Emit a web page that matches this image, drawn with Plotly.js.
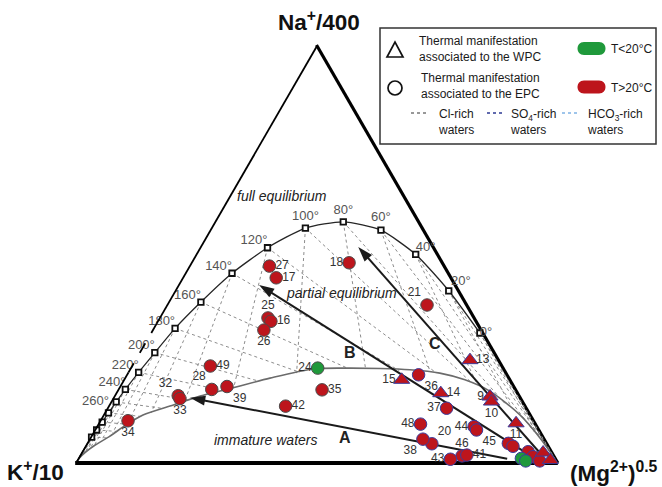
<!DOCTYPE html>
<html>
<head>
<meta charset="utf-8">
<script src="https://cdn.plot.ly/plotly-3.0.1.min.js"></script>
<style>
  html, body { margin: 0; padding: 0; background: #fff; }
  #chart { width: 662px; height: 487px; }
</style>
</head>
<body>
<div id="chart"></div>
<script>
// Giggenbach Na–K–Mg ternary diagram (a = Na/400, b = K/10, c = Mg^0.5)

// Full-equilibrium line: temperature marks (°C) and their positions
const eqTemp = [0, 20, 40, 60, 80, 100, 120, 140, 160, 180, 200, 220, 240, 260, 280, 300, 320, 340];
const eqA = [0.311, 0.412, 0.499, 0.557, 0.577, 0.562, 0.515, 0.454, 0.385, 0.322, 0.264, 0.217, 0.176, 0.146, 0.120, 0.098, 0.079, 0.062];
const eqC = [0.683, 0.568, 0.456, 0.355, 0.267, 0.196, 0.141, 0.098, 0.068, 0.046, 0.033, 0.023, 0.016, 0.012, 0.009, 0.007, 0.005, 0.003];
const eqLabelled = [true, true, true, true, true, true, true, true, true, true, true, true, true, true, false, false, false, false];

// Where each K–Mg isotherm (constant K/Mg^0.5) meets the immature-water line (a value)
const kmgEndA = [0.072, 0.136, 0.187, 0.218, 0.227, 0.215, 0.182, 0.151, 0.120, 0.096, 0.072, 0.055, 0.045, 0.037, 0.030, 0.024, 0.018, 0.013];
// Where each K–Na isotherm (constant Na/K) meets the immature-water line (c value)
const knaEndC = [0.990, 0.990, 0.969, 0.913, 0.819, 0.723, 0.639, 0.561, 0.450, 0.357, 0.283, 0.214, 0.161, 0.117, 0.081, 0.062, 0.048, 0.034];

// Immature-waters boundary
const immA = [0, 0.019, 0.043, 0.063, 0.093, 0.115, 0.139, 0.160, 0.179, 0.203, 0.225, 0.227, 0.226, 0.223, 0.215, 0.199, 0.172, 0.115, 0.060, 0];
const immC = [0, 0.005, 0.020, 0.039, 0.061, 0.083, 0.134, 0.179, 0.235, 0.302, 0.380, 0.445, 0.519, 0.582, 0.648, 0.708, 0.773, 0.864, 0.933, 1];

// Samples
const sampleId = ['27','17','18','25','16','26','21','13','49','28','39','32','33','34','24','35','42','15','36','14','9','10','37','11','48','44','45','20','38','46','41','43','','','','','','','','',''];
const sampleA = [0.471,0.443,0.479,0.347,0.339,0.318,0.378,0.246,0.232,0.176,0.183,0.161,0.154,0.101,0.227,0.175,0.136,0.199,0.211,0.167,0.159,0.147,0.131,0.095,0.093,0.087,0.079,0.046,0.057,0.017,0.019,0.009,0.047,0.040,0.027,0.015,0.005,0.011,0.005,0.025,0.007];
const sampleC = [0.167,0.195,0.328,0.226,0.236,0.232,0.540,0.695,0.164,0.195,0.223,0.133,0.140,0.059,0.389,0.424,0.368,0.577,0.606,0.674,0.780,0.789,0.704,0.866,0.669,0.783,0.792,0.716,0.692,0.793,0.802,0.773,0.874,0.887,0.925,0.941,0.960,0.919,0.931,0.957,0.981];
// WPC = triangle, EPC = circle
const sampleSystem = ['EPC','EPC','EPC','EPC','EPC','EPC','EPC','WPC','EPC','EPC','EPC','EPC','EPC','EPC','EPC','EPC','EPC','WPC','EPC','WPC','WPC','WPC','EPC','WPC','EPC','EPC','EPC','EPC','EPC','EPC','EPC','EPC','EPC','EPC','EPC','EPC','EPC','EPC','EPC','WPC','WPC'];
// Temperature class (1: T > 20 °C, 0: T < 20 °C)
const sampleHot = [1,1,1,1,1,1,1,1,1,1,1,1,1,1,0,1,1,1,1,1,1,1,1,1,1,1,1,1,1,1,1,1,1,1,1,1,1,0,0,1,1];
// Water type
const sampleWater = ['Cl','Cl','Cl','Cl','Cl','Cl','Cl','SO4','Cl','Cl','Cl','Cl','Cl','Cl','Cl','Cl','Cl','SO4','SO4','SO4','SO4','SO4','SO4','SO4','SO4','SO4','SO4','SO4','SO4','SO4','SO4','SO4','SO4','SO4','SO4','SO4','SO4','SO4','SO4','SO4','SO4'];

// Label placement for the sample numbers
const sampleLabelPos = ['middle right','middle right','middle left','top center','middle right','bottom center','top left','middle right','middle right','top left','bottom right','top left','bottom center','bottom center','middle left','middle right','middle right','middle left','bottom right','middle right','middle left','bottom center','middle left','bottom center','middle left','middle left','bottom right','top right','bottom left','top center','middle right','middle left','middle right','middle right','middle right','middle right','middle right','middle right','middle right','middle right','middle right'];
const eqLabelPos = ['middle right','top right','top right','top center','top center','top center','top left','top left','top left','top left','top left','top left','top left','middle left','middle left','middle left','middle left','middle left'];
const eqLabelGap = [0, 2, 0, 8, 6, 6, 0, 0, 0, 0, 0, 0, 0, 10, 0, 0, 0, 0];

// Evolution trends A, B, C (tail -> head)
const arrowName = ['A', 'B', 'C'];
const arrowTailA = [0.010, 0.026, 0.024];
const arrowTailC = [0.890, 0.919, 0.951];
const arrowHeadA = [0.156, 0.426, 0.517];
const arrowHeadC = [0.160, 0.168, 0.328];

const FONT = 'Liberation Sans, Arial, Helvetica, sans-serif';
const RED = '#bd151c';
const GREEN = '#1f993b';
const waterColor = { Cl: '#4a4a4a', SO4: '#3a3c9c' };

const bOf = (a, c) => a.map((v, i) => +(1 - v - c[i]).toFixed(4));
const pick = (arr, idx) => idx.map(i => arr[i]);
const traces = [];

// isotherm grid
eqTemp.forEach((t, i) => {
  const a = eqA[i], c = eqC[i], b = 1 - a - c;
  const aE = kmgEndA[i], sK = (1 - aE) / (1 - a);
  traces.push({
    type: 'scatterternary', mode: 'lines', hoverinfo: 'skip', showlegend: false,
    a: [a, aE], b: [b, b * sK], c: [c, c * sK],
    line: { color: '#8c8c8c', width: 1, dash: 'dot' }
  });
  const cE = knaEndC[i], sN = (1 - cE) / (1 - c);
  traces.push({
    type: 'scatterternary', mode: 'lines', hoverinfo: 'skip', showlegend: false,
    a: [a, a * sN], b: [b, b * sN], c: [c, cE],
    line: { color: '#8c8c8c', width: 1, dash: 'dot' }
  });
});

// immature-waters line
traces.push({
  type: 'scatterternary', mode: 'lines', hoverinfo: 'skip', showlegend: false,
  a: immA, b: bOf(immA, immC), c: immC,
  line: { color: '#6b6b6b', width: 1.6, shape: 'spline', smoothing: 0.8 }
});

// full-equilibrium line, running into the K corner
const eqLineA = eqA.concat([0]);
const eqLineC = eqC.concat([0]);
traces.push({
  type: 'scatterternary', mode: 'lines', hoverinfo: 'skip', showlegend: false,
  a: eqLineA, b: bOf(eqLineA, eqLineC), c: eqLineC,
  line: { color: '#262626', width: 1.3, shape: 'spline', smoothing: 0.6 },
  cliponaxis: false
});
traces.push({
  type: 'scatterternary', mode: 'markers', hoverinfo: 'skip', showlegend: false,
  a: eqA, b: bOf(eqA, eqC), c: eqC,
  marker: { symbol: 'square', size: 5.5, color: '#fff', opacity: 1, line: { color: '#111', width: 1.8 } },
  cliponaxis: false
});
// temperature labels
const eqIdx = eqTemp.map((t, i) => i).filter(i => eqLabelled[i]);
traces.push({
  type: 'scatterternary', mode: 'markers+text', hoverinfo: 'skip', showlegend: false,
  a: pick(eqA, eqIdx), b: bOf(pick(eqA, eqIdx), pick(eqC, eqIdx)), c: pick(eqC, eqIdx),
  text: eqIdx.map(i => eqTemp[i] + '°'),
  textposition: pick(eqLabelPos, eqIdx),
  textfont: { family: FONT, size: 13, color: '#555' },
  marker: { size: pick(eqLabelGap, eqIdx), opacity: 0 },
  cliponaxis: false
});

// left side of the triangle (K–Na edge), partly dashed
const edgeParts = [[1, 0.335, 'solid'], [0.335, 0.218, '11px,12px'], [0.218, 0, 'solid']];
edgeParts.forEach(p => {
  traces.push({
    type: 'scatterternary', mode: 'lines', hoverinfo: 'skip', showlegend: false,
    a: [p[0], p[1]], b: [1 - p[0], 1 - p[1]], c: [0, 0],
    line: { color: '#000', width: 3.6, dash: p[2] },
    cliponaxis: false
  });
});

// trend arrows
arrowName.forEach((n, i) => {
  const a = [arrowTailA[i], arrowHeadA[i]];
  const c = [arrowTailC[i], arrowHeadC[i]];
  traces.push({
    type: 'scatterternary', mode: 'lines+markers', hoverinfo: 'skip', showlegend: false,
    a: a, b: bOf(a, c), c: c,
    line: { color: '#1a1a1a', width: 2 },
    marker: { symbol: 'arrow', size: [0, 16], angleref: 'previous', color: '#1a1a1a', opacity: 1, line: { width: 0 } },
    cliponaxis: false
  });
});

// samples
traces.push({
  type: 'scatterternary', mode: 'markers', showlegend: false,
  a: sampleA, b: bOf(sampleA, sampleC), c: sampleC,
  hovertext: sampleId,
  marker: {
    symbol: sampleSystem.map(s => s === 'WPC' ? 'triangle-up' : 'circle'),
    size: sampleSystem.map(s => s === 'WPC' ? 14 : 12.5),
    color: sampleHot.map(h => h ? RED : GREEN),
    opacity: 1,
    line: { color: sampleWater.map(w => waterColor[w]), width: 1 }
  },
  cliponaxis: false
});
// sample numbers
const labIdx = sampleId.map((s, i) => i).filter(i => sampleId[i] !== '');
traces.push({
  type: 'scatterternary', mode: 'markers+text', hoverinfo: 'skip', showlegend: false,
  a: pick(sampleA, labIdx), b: bOf(pick(sampleA, labIdx), pick(sampleC, labIdx)), c: pick(sampleC, labIdx),
  text: pick(sampleId, labIdx), textposition: pick(sampleLabelPos, labIdx),
  textfont: { family: FONT, size: 12, color: '#333' },
  marker: { size: 8, opacity: 0 },
  cliponaxis: false
});

// pixel helpers for the key and free text (plot area: l=75, t=45, w=483, h=418)
const PX = x => (x - 75) / 483;
const PY = y => (463 - y) / 418;
const pathFrom = pts => pts.map((p, i) => (i ? 'L' : 'M') + PX(p[0]) + ',' + PY(p[1])).join(' ') + ' Z';
function pill(cx, cy, w, h) {
  const r = h / 2, x0 = cx - w / 2 + r, x1 = cx + w / 2 - r, y0 = cy - r, y1 = cy + r, k = r * 1.33;
  const P = (x, y) => PX(x) + ',' + PY(y);
  return 'M' + P(x0, y0) + ' L' + P(x1, y0) + ' C' + P(x1 + k, y0) + ' ' + P(x1 + k, y1) + ' ' + P(x1, y1) +
    ' L' + P(x0, y1) + ' C' + P(x0 - k, y1) + ' ' + P(x0 - k, y0) + ' ' + P(x0, y0) + ' Z';
}

const shapes = [
  { type: 'rect', xref: 'paper', yref: 'paper', x0: PX(380), x1: PX(656), y0: PY(144), y1: PY(28), line: { color: '#333', width: 1.5 }, fillcolor: '#fff' },
  { type: 'path', xref: 'paper', yref: 'paper', path: pathFrom([[387, 57], [403, 57], [395, 42]]), line: { color: '#111', width: 1.7 } },
  { type: 'circle', xref: 'paper', yref: 'paper', x0: PX(388), x1: PX(402), y0: PY(95), y1: PY(81), line: { color: '#111', width: 1.7 } },
  { type: 'path', xref: 'paper', yref: 'paper', path: pill(591.5, 48.5, 28, 13), fillcolor: GREEN, line: { width: 0 } },
  { type: 'path', xref: 'paper', yref: 'paper', path: pill(591.5, 87, 28, 13), fillcolor: RED, line: { width: 0 } },
  { type: 'line', xref: 'paper', yref: 'paper', x0: PX(411), x1: PX(428), y0: PY(113), y1: PY(113), line: { color: '#777', width: 1.5, dash: 'dot' } },
  { type: 'line', xref: 'paper', yref: 'paper', x0: PX(487), x1: PX(504), y0: PY(113), y1: PY(113), line: { color: '#2e3a94', width: 1.5, dash: 'dot' } },
  { type: 'line', xref: 'paper', yref: 'paper', x0: PX(562), x1: PX(579), y0: PY(113), y1: PY(113), line: { color: '#7fb2e5', width: 1.5, dash: 'dot' } }
];

function note(text, x, y, opts) {
  return Object.assign({
    text: text, xref: 'paper', yref: 'paper', x: PX(x), y: PY(y),
    xanchor: 'center', yanchor: 'middle', showarrow: false,
    font: { family: FONT, size: 12, color: '#222' }
  }, opts || {});
}
const left = (size) => ({ xanchor: 'left', align: 'left', font: { family: FONT, size: size, color: '#1a1a1a' } });
const cornerFont = { family: FONT, size: 22.5, color: '#111' };

const annotations = [
  note('<b>Na<sup>+</sup>/400</b>', 319, 21, { font: cornerFont }),
  note('<b>K<sup>+</sup>/10</b>', 35, 471, { font: cornerFont }),
  note('<b>(Mg<sup>2+</sup>)<sup>0.5</sup></b>', 614, 472, { font: cornerFont }),
  note('<i>full equilibrium</i>', 282, 196, { font: { family: FONT, size: 14, color: '#222' } }),
  note('<i>partial equilibrium</i>', 341, 293, { font: { family: FONT, size: 14, color: '#222' } }),
  note('<i>immature waters</i>', 265, 440, { font: { family: FONT, size: 14, color: '#222' } }),
  note('<b>A</b>', 345, 437, { font: { family: FONT, size: 16, color: '#222' } }),
  note('<b>B</b>', 350, 352, { font: { family: FONT, size: 16, color: '#222' } }),
  note('<b>C</b>', 435, 343, { font: { family: FONT, size: 16, color: '#222' } }),
  note('Thermal manifestation<br>associated to the WPC', 417, 49, left(12)),
  note('Thermal manifestation<br>associated to the EPC', 419, 86, left(12)),
  note('T<20°C', 609, 49, left(12)),
  note('T>20°C', 609, 87.5, left(12)),
  note('Cl-rich<br>waters', 436, 121.5, left(12)),
  note('SO<sub>4</sub>-rich<br>waters', 508, 121.5, left(12)),
  note('HCO<sub>3</sub>-rich<br>waters', 585, 121.5, left(12))
];

const hiddenAxis = { showgrid: false, showticklabels: false, ticks: '', title: { text: '' }, layer: 'below traces' };

const layout = {
  width: 662, height: 487,
  margin: { l: 75, r: 104, t: 45, b: 24, pad: 0 },
  paper_bgcolor: '#fff',
  showlegend: false,
  ternary: {
    sum: 1,
    domain: { x: [0, 1], y: [0, 1] },
    bgcolor: '#fff',
    aaxis: Object.assign({}, hiddenAxis, { showline: false }),
    baxis: Object.assign({}, hiddenAxis, { showline: true, linecolor: '#000', linewidth: 4 }),
    caxis: Object.assign({}, hiddenAxis, { showline: true, linecolor: '#000', linewidth: 3.2 })
  },
  shapes: shapes,
  annotations: annotations,
  font: { family: FONT }
};

Plotly.newPlot('chart', traces, layout, { displayModeBar: false, staticPlot: true });
</script>
</body>
</html>
